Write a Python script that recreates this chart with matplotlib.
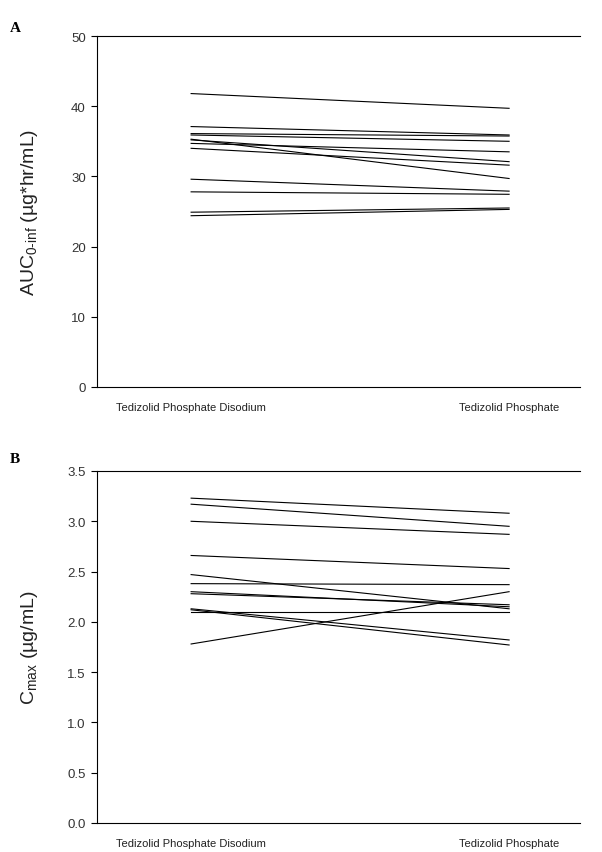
# Paired PK comparison: tedizolid phosphate disodium vs tedizolid phosphate
import matplotlib
matplotlib.use("Agg")
import matplotlib.pyplot as plt

plt.rcParams['font.family'] = ['Liberation Sans', 'DejaVu Sans']
plt.rcParams['mathtext.fontset'] = 'custom'
plt.rcParams['mathtext.rm'] = 'Liberation Sans'

categories = ['Tedizolid Phosphate Disodium', 'Tedizolid Phosphate']

# panel A - AUC0-inf per subject (disodium, phosphate)
auc_disodium = [41.8, 37.1, 36.1, 35.9, 35.3, 35.2, 34.7, 34.0, 29.6, 27.8, 24.9, 24.4]
auc_phosphate = [39.7, 35.9, 35.75, 35.0, 29.7, 32.1, 33.5, 31.6, 27.9, 27.45, 25.5, 25.3]

# panel B - Cmax per subject
cmax_disodium = [3.23, 3.17, 3.00, 2.66, 2.47, 2.38, 2.30, 2.28, 2.13, 2.12, 1.78, 2.10]
cmax_phosphate = [3.08, 2.95, 2.87, 2.53, 2.13, 2.37, 2.15, 2.17, 1.82, 1.77, 2.30, 2.10]

auc_ticks = [0, 10, 20, 30, 40, 50]
cmax_ticks = [0.0, 0.5, 1.0, 1.5, 2.0, 2.5, 3.0, 3.5]


def paired_panel(ax, before, after, ylim, yticks, ylabel, fmt):
    for a, b in zip(before, after):
        ax.plot([1, 2], [a, b], color='black', lw=0.8)
    ax.set_xlim(0.704, 2.223)
    ax.set_ylim(*ylim)
    ax.set_yticks(yticks)
    ax.set_yticklabels([fmt.format(t) for t in yticks])
    ax.set_xticks([1, 2])
    ax.set_xticklabels(categories)
    ax.tick_params(axis='x', length=0, pad=11, labelsize=8, labelcolor='#222222')
    ax.tick_params(axis='y', direction='out', length=4, width=0.8, pad=4,
                   labelsize=9.5, labelcolor='#333333')
    ax.spines['right'].set_visible(False)
    for s in ['left', 'bottom', 'top']:
        ax.spines[s].set_linewidth(0.8)
    ax.set_ylabel(ylabel, fontsize=14, color='#222222')
    ax.yaxis.set_label_coords(-0.118, 0.5)


fig = plt.figure(figsize=(6.02, 8.53), dpi=100)

axA = fig.add_axes([97 / 602, 1 - 388 / 853, 483 / 602, 351 / 853])
paired_panel(axA, auc_disodium, auc_phosphate, (0, 50), auc_ticks,
             r'AUC$_{\mathregular{0\text{-}inf}}$ (µg*hr/mL)', '{:g}')

axB = fig.add_axes([97 / 602, 1 - 824 / 853, 483 / 602, 352 / 853])
paired_panel(axB, cmax_disodium, cmax_phosphate, (0, 3.5), cmax_ticks,
             r'C$_{\mathregular{max}}$ (µg/mL)', '{:.1f}')

fig.text(10 / 602, 1 - 28 / 853, 'A', family='Liberation Serif', weight='bold', fontsize=11, va='center')
fig.text(10 / 602, 1 - 460 / 853, 'B', family='Liberation Serif', weight='bold', fontsize=11, va='center')

fig.savefig('out.png', dpi=100)
